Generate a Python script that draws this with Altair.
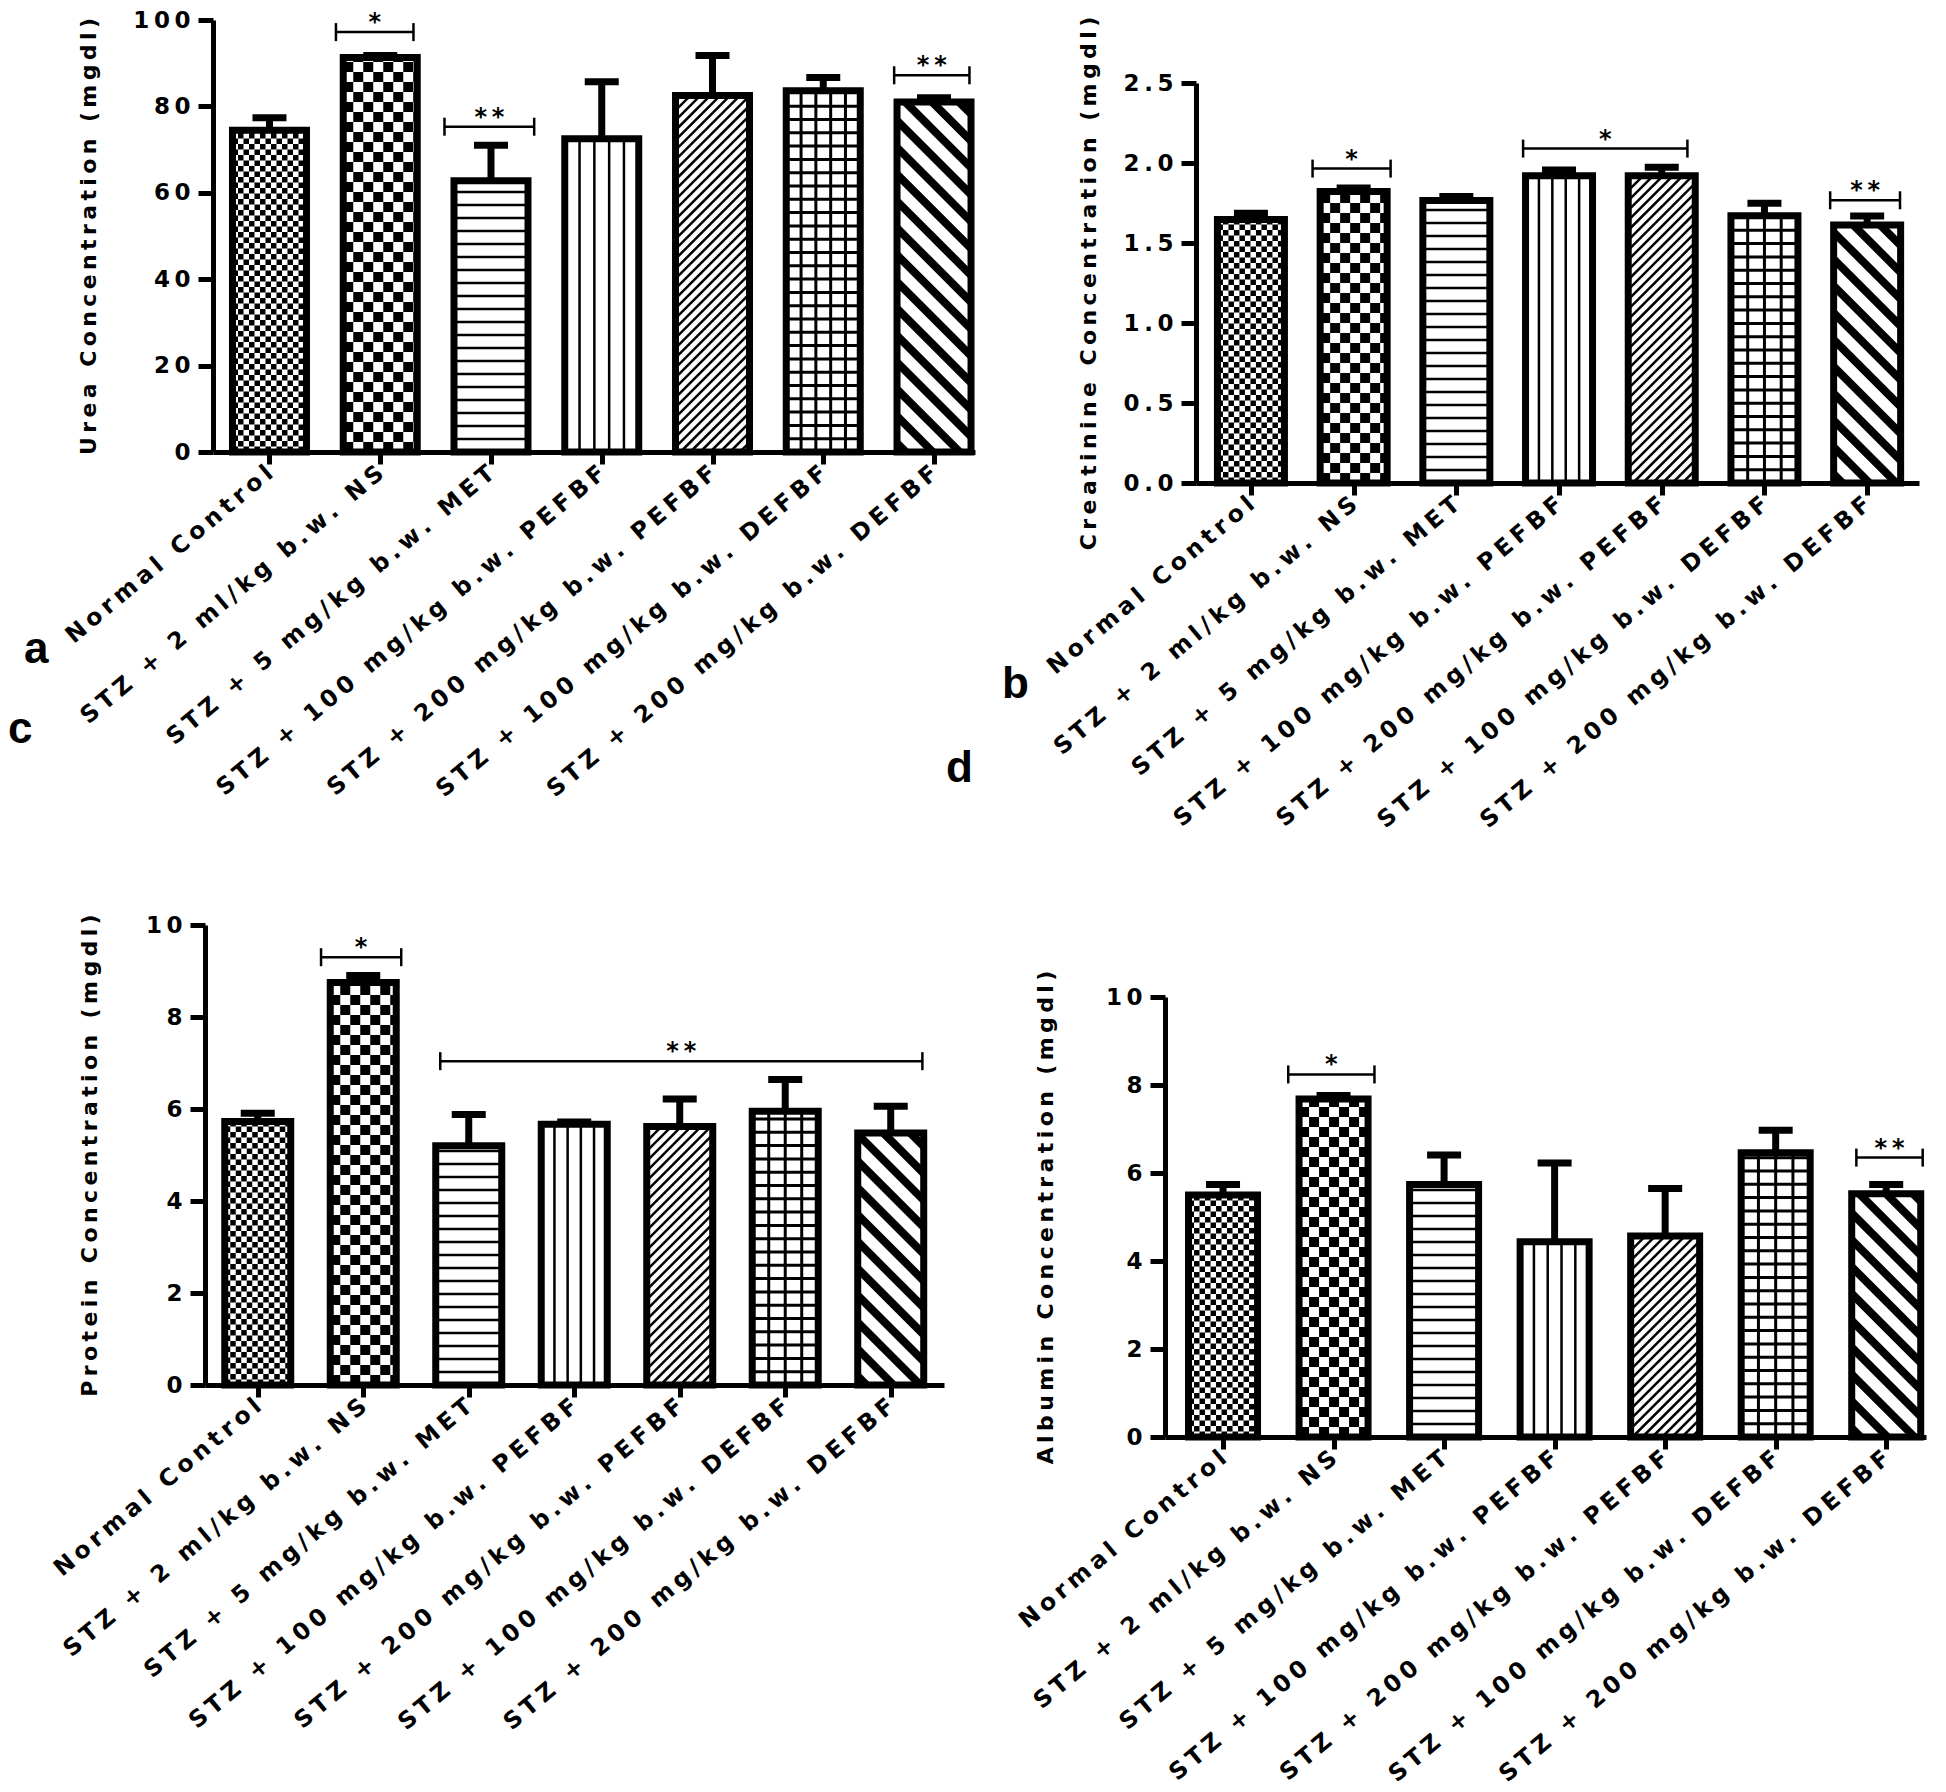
import math
import altair as alt
import pandas as pd

# ---------------- data ----------------
CATEGORIES = [
    "Normal Control",
    "STZ + 2 ml/kg b.w. NS",
    "STZ + 5 mg/kg b.w. MET",
    "STZ + 100 mg/kg b.w. PEFBF",
    "STZ + 200 mg/kg b.w. PEFBF",
    "STZ + 100 mg/kg b.w. DEFBF",
    "STZ + 200 mg/kg b.w. DEFBF",
]

UREA = [74.5, 91.3, 62.8, 72.5, 82.5, 83.6, 81.0]
UREA_SEM = [2.9, 0.5, 8.2, 13.2, 9.3, 3.1, 1.0]
CREATININE = [1.647, 1.822, 1.766, 1.920, 1.920, 1.670, 1.613]
CREATININE_SEM = [0.039, 0.021, 0.025, 0.037, 0.054, 0.079, 0.055]
PROTEIN = [5.73, 8.75, 5.20, 5.67, 5.62, 5.95, 5.48]
PROTEIN_SEM = [0.18, 0.15, 0.68, 0.05, 0.60, 0.69, 0.58]
ALBUMIN = [5.50, 7.68, 5.74, 4.44, 4.57, 6.46, 5.53]
ALBUMIN_SEM = [0.24, 0.08, 0.67, 1.79, 1.08, 0.51, 0.21]

# significance brackets: (from group, to group, level, label)
UREA_SIG = [(0.6, 1.3, 97.2, "*"), (1.58, 2.39, 75.3, "**"), (5.64, 6.32, 87.2, "**")]
CREATININE_SIG = [(0.6, 1.36, 1.965, "*"), (2.65, 4.25, 2.09, "*"), (5.64, 6.32, 1.767, "**")]
PROTEIN_SIG = [(0.6, 1.36, 9.30, "*"), (1.73, 6.30, 7.04, "**")]
ALBUMIN_SIG = [(0.59, 1.37, 8.24, "*"), (5.73, 6.33, 6.35, "**")]

TITLES = ["Urea Concentration (mgdl)", "Creatinine Concentration (mgdl)",
          "Protein Concentration (mgdl)", "Albumin Concentration (mgdl)"]
PANEL_LETTERS = ["a", "b", "c", "d"]

# ---------------- layout / style ----------------
W, H = 1930, 1776
M = 8
NBSP = "\u00a0"
THIN = "\u2009"
FONT = "DejaVu Sans"


def spaced(s, sep):
    return sep.join(s.replace(" ", NBSP))


def build_panel(vals, sems, sig, ymax, ystep, fmt, title, xr, xd, yr, bar_px, tpad):
    X0, X1 = xr[0] - M, xr[1] - M
    d0, d1 = xd
    YB, YT = yr[0] - M, yr[1] - M
    kx = (X1 - X0) / (d1 - d0)
    ky = (YB - YT) / ymax

    def gx(v):
        return X0 + (v - d0) * kx

    def gy(v):
        return YB - v * ky

    def ix(px):
        return d0 + (px - X0) / kx

    def iy(py):
        return (YB - py) / ky

    SW = 7
    hw = bar_px / 2 - SW / 2
    cap = 17 / kx
    bars, rects, rules = [], [], []

    def add_rule(xa, ya, xb, yb, w):
        rules.append(dict(x=ix(xa), x2=ix(xb), y=iy(ya), y2=iy(yb), w=w))

    for i, (v, s) in enumerate(zip(vals, sems)):
        L, R, T, B = gx(i) - hw, gx(i) + hw, gy(v), YB
        bars.append(dict(x=ix(L), x2=ix(R), y=0.0, y2=v, c=float(i), top=v + s,
                         cl=i - cap, cr=i + cap))
        if i in (0, 1):
            cs = 5.5 if i == 0 else 10.0
            ncol = math.ceil((R - L) / cs - 1e-9)
            nrow = math.ceil((B - T) / cs - 1e-9)
            for r in range(nrow):
                ylo = B - r * cs
                yhi = max(T, B - (r + 1) * cs)
                for c in range(ncol):
                    if (r + c) % 2:
                        continue
                    xa = L + c * cs
                    xb = min(R, xa + cs)
                    rects.append(dict(x=ix(xa), x2=ix(xb), y=iy(ylo), y2=iy(yhi)))
        elif i == 2:
            y = B - 13
            while y > T + 3:
                add_rule(L, y, R, y, 2.5)
                y -= 13
        elif i == 3:
            n = max(2, round((R - L) / 14))
            for k in range(1, n):
                x = L + k * (R - L) / n
                add_rule(x, B, x, T, 2.5)
        elif i == 4:
            step = 7 * math.sqrt(2)
            cc = L + T + step / 2
            while cc < R + B:
                xa = max(L, cc - B)
                xb = min(R, cc - T)
                if xb - xa > 0.5:
                    add_rule(xa, cc - xa, xb, cc - xb, 2.5)
                cc += step
        elif i == 5:
            n = max(2, round((R - L) / 16))
            for k in range(1, n):
                x = L + k * (R - L) / n
                add_rule(x, B, x, T, 3)
            y = B - 13.3
            while y > T + 3:
                add_rule(L, y, R, y, 3)
                y -= 13.3
        elif i == 6:
            step = 19 * math.sqrt(2)
            cc = L - B + step / 3
            while cc < R - T:
                xa = max(L, cc + T)
                xb = min(R, cc + B)
                if xb - xa > 0.5:
                    add_rule(xa, xa - cc, xb, xb - cc, 8)
                cc += step

    br, stars = [], []
    tick = 9 / ky
    for a, b, lvl, txt in sig:
        br.append(dict(x=a, x2=b, y=lvl, y2=lvl))
        br.append(dict(x=a, x2=a, y=lvl - tick, y2=lvl + tick))
        br.append(dict(x=b, x2=b, y=lvl - tick, y2=lvl + tick))
        stars.append(dict(x=(a + b) / 2, y=lvl, t=THIN.join(txt)))

    def sx():
        return alt.Scale(domain=[d0, d1], range=[X0, X1], nice=False, zero=False)

    def sy():
        return alt.Scale(domain=[0, ymax], range=[YB, YT], nice=False, zero=False)

    xlabels = [spaced(c, THIN) for c in CATEGORIES]
    xexpr = "[" + ",".join("'" + s + "'" for s in xlabels) + "][datum.value]"
    nticks = int(round(ymax / ystep))
    yvals = [round(k * ystep, 6) for k in range(nticks + 1)]
    ylabels = [spaced(fmt.format(v), THIN) for v in yvals]
    yexpr = "[" + ",".join("'" + s + "'" for s in ylabels) + "][round(datum.value/" + str(ystep) + ")]"

    xaxis = alt.Axis(orient="bottom", offset=YB - H, values=list(range(7)), labelExpr=xexpr,
                     title=None, grid=False, labelAngle=-40, labelAlign="right",
                     labelBaseline="middle", labelFont=FONT, labelFontWeight="bold",
                     labelFontSize=23.5, labelColor="black", labelPadding=6, labelLimit=0,
                     labelOverlap=False, labelFlush=False, tickSize=12, tickWidth=5,
                     tickColor="black", domainColor="black", domainWidth=5)
    yaxis = alt.Axis(orient="left", offset=-X0, values=yvals, labelExpr=yexpr,
                     title=spaced(title, THIN), titleFont=FONT, titleFontWeight="bold",
                     titleFontSize=22, titleColor="black", titlePadding=tpad,
                     grid=False, labelFont=FONT, labelFontWeight="bold", labelFontSize=23,
                     labelColor="black", labelPadding=8, labelOverlap=False, labelFlush=False,
                     tickSize=15, tickWidth=5, tickColor="black", domainColor="black",
                     domainWidth=5)

    bdf = pd.DataFrame(bars)
    white = alt.Chart(bdf).mark_rect(fill="white").encode(
        x=alt.X("x:Q", scale=sx(), axis=xaxis), x2="x2:Q",
        y=alt.Y("y:Q", scale=sy(), axis=yaxis), y2="y2:Q")
    layers = [white]
    if rects:
        layers.append(alt.Chart(pd.DataFrame(rects)).mark_rect(fill="black").encode(
            x=alt.X("x:Q", scale=sx(), axis=None), x2="x2:Q",
            y=alt.Y("y:Q", scale=sy(), axis=None), y2="y2:Q"))
    layers.append(alt.Chart(pd.DataFrame(rules)).mark_rule(color="black", strokeCap="butt").encode(
        x=alt.X("x:Q", scale=sx(), axis=None), x2="x2:Q",
        y=alt.Y("y:Q", scale=sy(), axis=None), y2="y2:Q",
        strokeWidth=alt.StrokeWidth("w:Q", scale=None)))
    layers.append(alt.Chart(bdf).mark_rect(fill="white", fillOpacity=0, stroke="black",
                                            strokeWidth=SW).encode(
        x=alt.X("x:Q", scale=sx(), axis=None), x2="x2:Q",
        y=alt.Y("y:Q", scale=sy(), axis=None), y2="y2:Q"))
    layers.append(alt.Chart(bdf).mark_rule(color="black", strokeWidth=7, strokeCap="butt").encode(
        x=alt.X("c:Q", scale=sx(), axis=None),
        y=alt.Y("y2:Q", scale=sy(), axis=None), y2="top:Q"))
    layers.append(alt.Chart(bdf).mark_rule(color="black", strokeWidth=7, strokeCap="butt").encode(
        x=alt.X("cl:Q", scale=sx(), axis=None), x2="cr:Q",
        y=alt.Y("top:Q", scale=sy(), axis=None)))
    layers.append(alt.Chart(pd.DataFrame(br)).mark_rule(color="black", strokeWidth=2.5).encode(
        x=alt.X("x:Q", scale=sx(), axis=None), x2="x2:Q",
        y=alt.Y("y:Q", scale=sy(), axis=None), y2="y2:Q"))
    layers.append(alt.Chart(pd.DataFrame(stars)).mark_text(
        font=FONT, fontWeight="bold", fontSize=24, color="black", baseline="alphabetic",
        align="center", dy=-2).encode(
        x=alt.X("x:Q", scale=sx(), axis=None),
        y=alt.Y("y:Q", scale=sy(), axis=None), text="t:N"))
    return layers


pa = build_panel(UREA, UREA_SEM, UREA_SIG, 100, 20, "{:.0f}", TITLES[0],
                 (213, 975), (-0.51, 6.37), (452, 20), 81, 32)
pb = build_panel(CREATININE, CREATININE_SEM, CREATININE_SIG, 2.5, 0.5, "{:.1f}", TITLES[1],
                 (1196, 1919), (-0.535, 6.505), (483, 83), 74, 23)
pc = build_panel(PROTEIN, PROTEIN_SEM, PROTEIN_SIG, 10, 2, "{:.0f}", TITLES[2],
                 (205, 944), (-0.50, 6.505), (1385, 925), 73, 44)
pd_ = build_panel(ALBUMIN, ALBUMIN_SEM, ALBUMIN_SIG, 10, 2, "{:.0f}", TITLES[3],
                  (1165, 1926), (-0.525, 6.36), (1437, 997), 76, 48)

letter_pos = {"a": (16, 655), "b": (994, 690), "c": (0, 735), "d": (938, 774)}
letter_layers = []
for L_ in PANEL_LETTERS:
    px, py = letter_pos[L_]
    letter_layers.append(
        alt.Chart(pd.DataFrame({"t": [L_]})).mark_text(
            font="Liberation Sans Narrow, Liberation Sans", fontWeight="bold", fontSize=44,
            color="black", align="left", baseline="alphabetic").encode(
            x=alt.value(px), y=alt.value(py), text="t:N"))

chart = alt.layer(*pa, *pb, *pc, *pd_, *letter_layers).resolve_scale(
    x="independent", y="independent"
).properties(
    width=W, height=H, padding=0, background="white",
).configure_view(strokeWidth=0)

chart.save("out.html", embed_options={"renderer": "svg", "actions": False})
